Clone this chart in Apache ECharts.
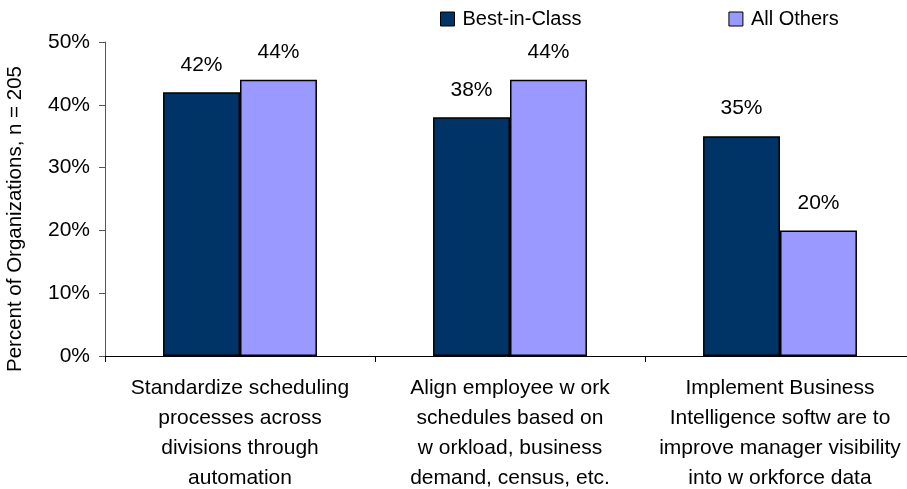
<!DOCTYPE html>
<html>
<head>
<meta charset="utf-8">
<script src="https://cdn.jsdelivr.net/npm/echarts@6/dist/echarts.min.js"></script>
<style>
html,body{margin:0;padding:0;background:#fff;}
#c{width:907px;height:489px;}
</style>
</head>
<body>
<div id="c"></div>
<script>
var categories = [
  "Standardize scheduling\nprocesses across\ndivisions through\nautomation",
  "Align employee w ork\nschedules based on\nw orkload, business\ndemand, census, etc.",
  "Implement Business\nIntelligence softw are to\nimprove manager visibility\ninto w orkforce data"
];
var seriesNames = ["Best-in-Class", "All Others"];
var bestInClass = [42, 38, 35];
var allOthers = [44, 44, 20];
var yTicks = [0, 10, 20, 30, 40, 50];

var FONT = "Liberation Sans, Arial, sans-serif";
var chart = echarts.init(document.getElementById('c'));
var labelCfg = {
  show: true, position: 'top', distance: 17,
  formatter: function(p){ return p.value + '%'; },
  color: '#000', fontSize: 21, fontFamily: FONT
};
chart.setOption({
  animation: false,
  backgroundColor: '#fff',
  textStyle: { fontFamily: FONT },
  legend: {
    data: seriesNames,
    left: 435, top: 4,
    itemWidth: 14, itemHeight: 14, itemGap: 147,
    icon: 'rect',
    itemStyle: { borderColor: '#000', borderWidth: 1 },
    textStyle: { fontSize: 20, color: '#000', fontFamily: FONT, padding: [0,0,0,3] }
  },
  grid: { left: 105, right: -8, top: 42, bottom: 133, containLabel: false, outerBoundsMode: 'none' },
  xAxis: {
    type: 'category',
    data: categories,
    axisLine: { lineStyle: { color: '#000', width: 1 } },
    axisTick: { show: true, length: 6, inside: false, lineStyle: { color: '#000' } },
    axisLabel: { color: '#000', fontSize: 21, fontFamily: FONT, lineHeight: 30, margin: 17, interval: 0 }
  },
  yAxis: {
    type: 'value',
    min: 0, max: 50, interval: 10,
    name: 'Percent of Organizations, n = 205',
    nameLocation: 'middle',
    nameGap: 79,
    nameRotate: 90,
    nameTextStyle: { color: '#000', fontSize: 20.5, fontFamily: FONT, padding: [0, 40, 0, 0] },
    axisLine: { show: true, lineStyle: { color: '#555', width: 1 } },
    axisTick: { show: true, length: 6, lineStyle: { color: '#555' } },
    axisLabel: { color: '#000', fontSize: 21, fontFamily: FONT, margin: 15,
      formatter: function(v){ return yTicks.indexOf(v) >= 0 ? v + '%' : ''; } },
    splitLine: { show: false }
  },
  series: [
    {
      name: seriesNames[0], type: 'bar', data: bestInClass,
      barGap: '0%', barCategoryGap: '43%',
      itemStyle: { color: '#003366', borderColor: '#000', borderWidth: 1.5 },
      label: labelCfg
    },
    {
      name: seriesNames[1], type: 'bar', data: allOthers,
      itemStyle: { color: '#9999FF', borderColor: '#000', borderWidth: 1.5 },
      label: labelCfg
    }
  ]
});
</script>
</body>
</html>
